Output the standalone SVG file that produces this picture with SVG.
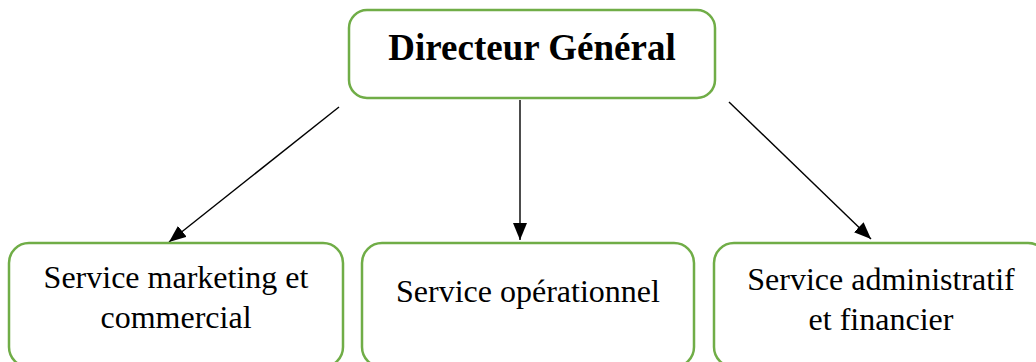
<svg xmlns="http://www.w3.org/2000/svg" width="1036" height="362" viewBox="0 0 1036 362">
<style>
.box{fill:#ffffff;stroke:#70AD47;stroke-width:2.5}
.t{font-family:"Liberation Serif","Times New Roman",serif;fill:#000;text-anchor:middle}
.title{font-size:37px;font-weight:bold}
.lbl{font-size:32px}
.conn line{stroke:#000;stroke-width:1.4}
</style>
<defs>
<marker id="ah" viewBox="0 0 17 14" refX="17" refY="7" markerWidth="17" markerHeight="14" markerUnits="userSpaceOnUse" orient="auto">
<path d="M0,0 L17,7 L0,14 Z" fill="#000"/>
</marker>
</defs>
<rect width="1036" height="362" fill="#ffffff"/>
<g id="connectors" class="conn">
<line x1="339" y1="107" x2="169" y2="242" marker-end="url(#ah)"/>
<line x1="520" y1="100" x2="520" y2="240" marker-end="url(#ah)"/>
<line x1="729" y1="102" x2="871" y2="239" marker-end="url(#ah)"/>
</g>
<g id="directeur">
<rect class="box" x="349" y="10" width="366" height="88" rx="18"/>
<text class="t title" x="532" y="60">Directeur Général</text>
</g>
<g id="marketing">
<rect class="box" x="9" y="243" width="334" height="124" rx="20"/>
<text class="t lbl" x="176" y="288">Service marketing et</text>
<text class="t lbl" x="176" y="328">commercial</text>
</g>
<g id="operationnel">
<rect class="box" x="362" y="243" width="332" height="124" rx="20"/>
<text class="t lbl" x="528" y="302">Service opérationnel</text>
</g>
<g id="administratif">
<rect class="box" x="714" y="243" width="334" height="124" rx="20"/>
<text class="t lbl" x="881" y="290">Service administratif</text>
<text class="t lbl" x="881" y="330">et financier</text>
</g>
</svg>
